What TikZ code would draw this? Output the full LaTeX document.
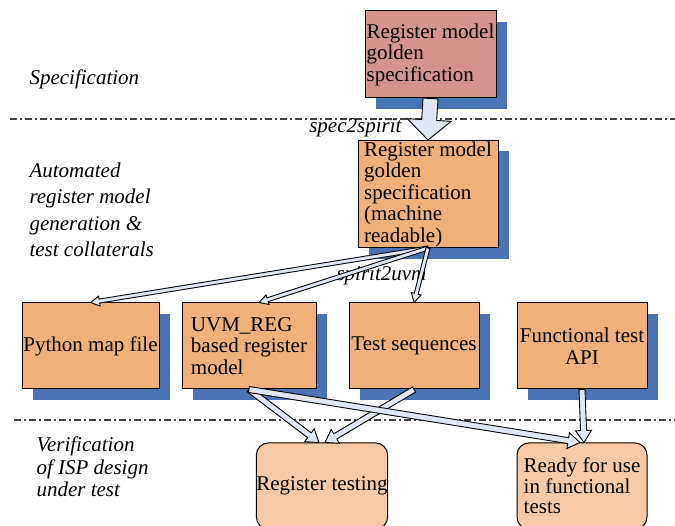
\documentclass[tikz,border=0pt]{standalone}
\usepackage{fontspec}
\setmainfont{Liberation Serif}
\usetikzlibrary{calc, shadows, positioning}
\definecolor{specrose}{HTML}{D6928E}
\definecolor{genorange}{HTML}{F0B07A}
\definecolor{verorange}{HTML}{F7CAA5}
\definecolor{shadowblue}{HTML}{4A73B5}
\definecolor{arrowfill}{HTML}{DEE7F3}
\definecolor{sepgray}{HTML}{404040}
\newcommand{\openarrow}[5]{%
  \coordinate (oa-c) at ($(#2)!#5!(#1)$);
  \draw[arrowbody] ($(#1)!#3!90:(#2)$) -- ($(oa-c)!#3!90:(#2)$) -- ($(oa-c)!#4!90:(#2)$)
    -- (#2) -- ($(oa-c)!#4!-90:(#2)$) -- ($(oa-c)!#3!-90:(#2)$) -- ($(#1)!#3!-90:(#2)$) -- cycle;}

\begin{document}
\begin{tikzpicture}[x=1pt, y=-1pt,
    box/.style={draw, line width=1pt, fill=genorange, align=left, inner sep=1pt,
      minimum height=86pt, font=\fontsize{21}{21.5}\selectfont,
      drop shadow={shadow xshift=11pt, shadow yshift=-11pt, fill=shadowblue, opacity=1}},
    roundbox/.style={draw, line width=1pt, fill=verorange, rounded corners=12pt, align=left,
      inner sep=0pt, minimum width=130pt, minimum height=86pt, font=\fontsize{21}{20.5}\selectfont},
    phase/.style={anchor=west, align=left},
    tool/.style={font=\fontsize{21}{21}\selectfont\itshape},
    sepline/.style={draw=sepgray, line width=1.4pt, dash pattern=on 7pt off 3pt on 2pt off 3pt},
    arrowbody/.style={draw=black, line width=0.9pt, fill=arrowfill}]
      \useasboundingbox (0, 0) rectangle (675, 526);
      \clip (0, 0) rectangle (675, 526);
      \draw[sepline] (10, 119) -- (675, 119);
      \draw[sepline] (14, 420) -- (675, 420);
      \node[phase, font=\fontsize{21}{21}\selectfont\itshape] (specphase) at (26, 79) {Specification};
      \node[phase, font=\fontsize{21}{26.5}\selectfont\itshape] (genphase) at (26, 210)
        {Automated\\register model\\generation \&\\test collaterals};
      \node[phase, font=\fontsize{21}{22.5}\selectfont\itshape] (verphase) at (33, 467)
        {Verification\\of ISP design\\under test};
      \node[box, fill=specrose, minimum width=131pt, minimum height=87pt] (spec) at (430.5, 54.5)
        {Register model\\golden\\specification};
      \node[box, minimum width=140pt, minimum height=106pt] (mach) at (428, 194)
        {Register model\\golden\\specification\\(machine\\readable)};
      \node[box, minimum width=137pt] (pyfile) at (90.5, 346) {Python map file};
      \node[box, minimum width=134pt] (uvmreg) at (249, 346) {UVM\_REG\\based register\\model};
      \node[box, minimum width=130pt] (testseq) at (414, 346) {Test sequences};
      \node[box, minimum width=130pt, align=center] (funcapi) at (582, 346) {Functional test\\API};
      \node[roundbox] (regtest) at (322, 486) {Register testing};
      \node[roundbox] (ready) at (582, 486) {Ready for use\\in functional\\tests};
      \node[tool, anchor=east] (spec2spirit) at (405, 128) {spec2spirit};
      \node[tool, anchor=west] (spirit2uvm) at (333, 276) {spirit2uvm};
      \coordinate (uvmin) at ([xshift=10pt]uvmreg.north);
      \coordinate (regtestl) at ([xshift=-3pt]regtest.north);
      \coordinate (regtestr) at ([xshift=3pt]regtest.north);
      \coordinate (readyl) at ([xshift=-2pt]ready.north);
      \coordinate (readyr) at ([xshift=2pt]ready.north);
      \openarrow{spec.south}{mach.north}{7.5pt}{22pt}{20pt}
      \openarrow{mach.south}{pyfile.north}{2pt}{5pt}{9pt}
      \openarrow{mach.south}{uvmin}{2pt}{5pt}{9pt}
      \openarrow{mach.south}{testseq.north}{2pt}{5pt}{9pt}
      \openarrow{uvmreg.south}{regtestl}{3pt}{8pt}{12pt}
      \openarrow{testseq.south}{regtestr}{3pt}{8pt}{12pt}
      \openarrow{uvmreg.south}{readyl}{3pt}{8pt}{12pt}
      \openarrow{funcapi.south}{readyr}{3pt}{8pt}{12pt}
    \end{tikzpicture}
\end{document}
